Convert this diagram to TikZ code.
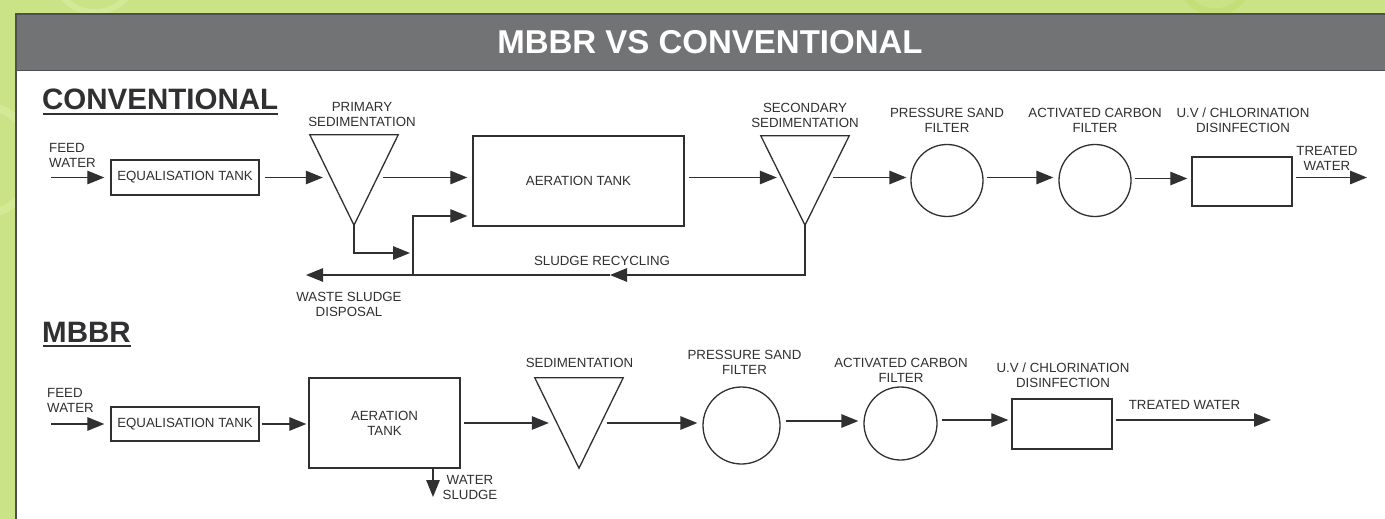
\documentclass[tikz,border=0pt]{standalone}
\usepackage{fontspec}
\setmainfont{Liberation Sans}
\usetikzlibrary{arrows.meta,calc}
\definecolor{bggreen}{RGB}{201,227,134}
\definecolor{ringgreen}{RGB}{211,233,150}
\definecolor{ringgreenb}{RGB}{196,222,122}
\definecolor{hdrgray}{RGB}{114,115,117}
\definecolor{frame}{RGB}{78,79,80}
\definecolor{ink}{RGB}{48,48,50}
\begin{document}
\begin{tikzpicture}[x=1pt,y=-1pt,
  line/.style={draw=ink, line width=1.3pt},
  arr/.style={line, -{Triangle[length=17pt,width=13.5pt]}},
  box/.style={draw=ink, line width=1.4pt, rectangle, inner sep=0pt, fill=white,
              text=ink, font=\fontsize{13.3}{15}\selectfont, align=center},
  tri/.style={rectangle, inner sep=0pt, minimum width=88pt, minimum height=90pt},
  circ/.style={draw=ink, line width=1.3pt, circle, inner sep=0pt},
  lbl/.style={text=ink, font=\fontsize{13.3}{15}\selectfont, align=center, inner sep=0pt},
  ttl/.style={text=ink, font=\fontsize{29.5}{32}\selectfont\bfseries, inner sep=0pt, anchor=base west},
]
\useasboundingbox (0,0) rectangle (1385,519);
\clip (0,0) rectangle (1385,519);
% background
\fill[bggreen] (0,0) rectangle (1385,519);
\draw[ringgreenb, line width=7pt] (1215,-22) circle (34);
\draw[ringgreen, line width=6pt] (95,-30) circle (42);
\draw[ringgreen, line width=8pt] (-20,160) circle (55);
% panel
\fill[white] (16,14) rectangle (1400,540);
\fill[hdrgray] (16,14) rectangle (1400,70);
\draw[frame, line width=1.5pt] (16,70.5) -- (1400,70.5);
\draw[frame, line width=1.5pt] (16,540) -- (16,14) -- (1400,14);
\node[text=white, font=\fontsize{33}{36}\selectfont\bfseries, inner sep=0pt] (mt) at (710,42.5) {MBBR VS CONVENTIONAL};

% ---------------- CONVENTIONAL ----------------
\node[ttl] (tc) at (42,110) {CONVENTIONAL};
\draw[ink, line width=2pt] ($(tc.base west)+(1,3.5)$) -- ($(tc.base east)+(0,3.5)$);

\coordinate (fw1) at (51,177.5);
\node[box, minimum width=148pt, minimum height=35pt] (eq1) at (185,177.5) {EQUALISATION TANK};
\node[tri] (ps1) at (354,180) {};
\draw[line] (ps1.north west) -- (ps1.north east) -- (ps1.south) -- cycle;
\node[box, minimum width=211pt, minimum height=90pt] (at1) at (578.5,181) {AERATION TANK};
\node[tri, minimum height=89pt] (ss1) at (805,180.5) {};
\draw[line] (ss1.north west) -- (ss1.north east) -- (ss1.south) -- cycle;
\node[circ, minimum size=72pt] (pf1) at (947,180.5) {};
\node[circ, minimum size=72pt] (ac1) at (1095,180.5) {};
\node[box, minimum width=100pt, minimum height=49pt] (uv1) at (1242,181.5) {};
\coordinate (tw1) at (1367,177.5);

\node[lbl, anchor=west, align=left] (fwl1) at (49,155) {FEED\\WATER};
\node[lbl] (psl) at (362,114) {PRIMARY\\SEDIMENTATION};
\node[lbl] (ssl) at (805,115) {SECONDARY\\SEDIMENTATION};
\node[lbl] (pfl1) at (947,120) {PRESSURE SAND\\FILTER};
\node[lbl] (acl1) at (1095,120) {ACTIVATED CARBON\\FILTER};
\node[lbl] (uvl1) at (1243,120) {U.V / CHLORINATION\\DISINFECTION};
\node[lbl] (twl1) at (1327,158) {TREATED\\WATER};
\node[lbl] (src) at (602,261) {SLUDGE RECYCLING};
\node[lbl] (wsl) at (349,304) {WASTE SLUDGE\\DISPOSAL};

\draw[arr] (fw1) -- ($(eq1.west)+(-6,0)$);
\draw[arr] ($(eq1.east)+(5,0)$) -- ($(ps1.west |- eq1.east)+(13,0)$);
\draw[arr] ($(ps1.east |- eq1.east)+(-15,0)$) -- ($(at1.west |- eq1.east)+(-5,0)$);
\draw[arr] ($(at1.east |- eq1.east)+(4,0)$) -- ($(ss1.west |- eq1.east)+(16,0)$);
\draw[arr] ($(ss1.east |- eq1.east)+(-16,0)$) -- ($(pf1.west |- eq1.east)+(-4,0)$);
\draw[arr] ($(pf1.east |- eq1.east)+(3,0)$) -- ($(ac1.west |- eq1.east)+(-5,0)$);
\draw[arr] ($(ac1.east |- eq1.east)+(3,1)$) -- ($(uv1.west |- eq1.east)+(-4,1)$);
\draw[arr] ($(uv1.east |- eq1.east)+(3,0)$) -- (tw1);

\coordinate (jn1) at (410,253);
\coordinate (br1) at (413,275);
\coordinate (rc) at (610,275);
\coordinate (wsd) at (306,275);
\coordinate (in2) at ($(at1.west)+(-5,35)$);
\draw[arr] (ps1.south) |- (jn1);
\draw[arr] (ss1.south) |- (rc);
\draw[arr] (rc) -- (wsd);
\draw[arr] (br1) |- (in2);

% ---------------- MBBR ----------------
\node[ttl] (tm) at (42,342) {MBBR};
\draw[ink, line width=2pt] ($(tm.base west)+(1,3.5)$) -- ($(tm.base east)+(0,3.5)$);

\coordinate (fw2) at (51,424);
\node[box, minimum width=148pt, minimum height=34pt] (eq2) at (185,424) {EQUALISATION TANK};
\node[box, minimum width=151pt, minimum height=90pt] (at2) at (384.5,423) {AERATION\\TANK};
\node[tri] (sd2) at (579,423) {};
\draw[line] (sd2.north west) -- (sd2.north east) -- (sd2.south) -- cycle;
\node[circ, minimum size=77pt] (pf2) at (741.5,425.5) {};
\node[circ, minimum size=73pt] (ac2) at (900.5,423.5) {};
\node[box, minimum width=100pt, minimum height=50pt] (uv2) at (1062,424) {};
\coordinate (tw2) at (1271,420);
\coordinate (ws2) at (433,497);

\node[lbl, anchor=west, align=left] (fwl2) at (47,400.5) {FEED\\WATER};
\node[lbl] (wsl2) at (470,487.5) {WATER\\SLUDGE};
\node[lbl] (sdl2) at (579.5,363) {SEDIMENTATION};
\node[lbl] (pfl2) at (744.5,362.5) {PRESSURE SAND\\FILTER};
\node[lbl] (acl2) at (901,370) {ACTIVATED CARBON\\FILTER};
\node[lbl] (uvl2) at (1063,375) {U.V / CHLORINATION\\DISINFECTION};
\node[lbl] (twl2) at (1184.5,405) {TREATED WATER};

\draw[arr] (fw2) -- ($(eq2.west)+(-6,0)$);
\draw[arr] ($(eq2.east)+(2,0)$) -- ($(at2.west |- eq2.east)+(-2,0)$);
\draw[arr] ($(at2.east)+(3,0)$) -- ($(sd2.west |- at2.east)+(14,0)$);
\draw[arr] ($(sd2.east)+(-16,0)$) -- ($(pf2.west |- sd2.east)+(-5,0)$);
\draw[arr] ($(pf2.east)+(5,-4.5)$) -- ($(ac2.west |- pf2.east)+(-5,-4.5)$);
\draw[arr] ($(ac2.east)+(4,-3.5)$) -- ($(uv2.west |- ac2.east)+(-3,-3.5)$);
\draw[arr] ($(uv2.east)+(3,-4)$) -- (tw2);
\draw[arr] (at2.south -| ws2) -- (ws2);
\end{tikzpicture}
\end{document}
